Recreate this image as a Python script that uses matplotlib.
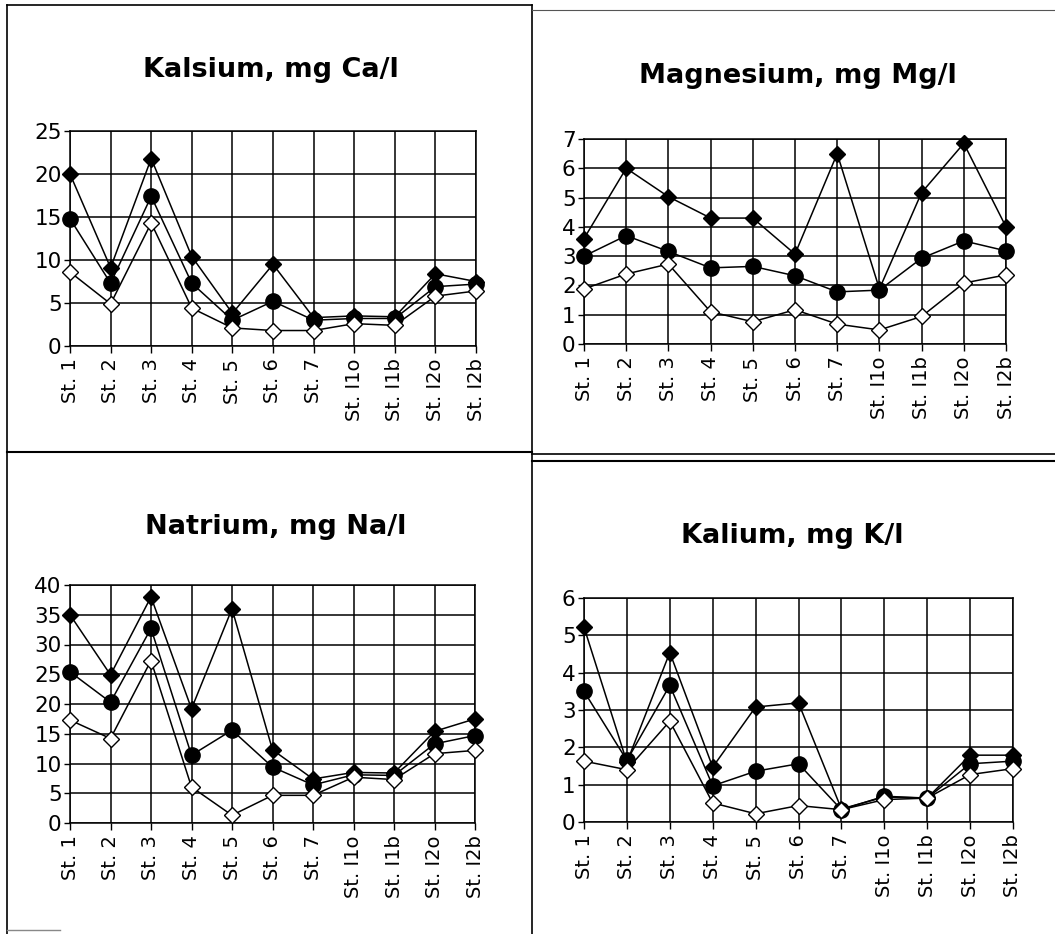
#Four panels of cation concentrations per station

#import libraries
import matplotlib
matplotlib.use('Agg')
import matplotlib.pyplot as plt
from matplotlib.lines import Line2D

#stations on the x axis
stations = ['St. 1', 'St. 2', 'St. 3', 'St. 4', 'St. 5', 'St. 6', 'St. 7',
            'St. I1o', 'St. I1b', 'St. I2o', 'St. I2b']

#kalsium, mg Ca/l
ca_max = [20.0, 9.1, 21.8, 10.4, 3.8, 9.5, 3.3, 3.5, 3.4, 8.4, 7.5]
ca_mid = [14.8, 7.3, 17.4, 7.3, 3.0, 5.2, 3.0, 3.2, 3.2, 6.9, 7.2]
ca_min = [8.6, 4.9, 14.3, 4.4, 2.1, 1.8, 1.8, 2.6, 2.4, 5.8, 6.4]

#magnesium, mg Mg/l
mg_max = [3.6, 6.0, 5.03, 4.3, 4.3, 3.07, 6.5, 1.88, 5.17, 6.85, 4.0]
mg_mid = [3.0, 3.7, 3.16, 2.6, 2.65, 2.33, 1.78, 1.84, 2.93, 3.52, 3.18]
mg_min = [1.88, 2.39, 2.73, 1.1, 0.76, 1.17, 0.68, 0.48, 0.94, 2.08, 2.36]

#natrium, mg Na/l
na_max = [35.0, 24.9, 38.0, 19.2, 36.0, 12.3, 7.4, 8.5, 8.4, 15.4, 17.5]
na_mid = [25.4, 20.3, 32.7, 11.4, 15.6, 9.4, 6.4, 8.1, 8.0, 13.3, 14.7]
na_min = [17.3, 14.2, 27.3, 6.05, 1.3, 4.65, 4.65, 7.7, 7.3, 11.65, 12.2]

#kalium, mg K/l
k_max = [5.22, 1.6, 4.54, 1.47, 3.08, 3.19, 0.35, 0.67, 0.64, 1.79, 1.79]
k_mid = [3.5, 1.65, 3.66, 0.97, 1.36, 1.56, 0.33, 0.69, 0.64, 1.56, 1.63]
k_min = [1.63, 1.4, 2.7, 0.51, 0.22, 0.44, 0.33, 0.6, 0.64, 1.27, 1.43]

titles = ['Kalsium, mg Ca/l', 'Magnesium, mg Mg/l', 'Natrium, mg Na/l', 'Kalium, mg K/l']
ymaxes = [25, 7, 40, 6]
ysteps = [5, 1, 5, 1]

W, H = 1055, 934
fig = plt.figure(figsize=(W / 100, H / 100), dpi=100)

#axes boxes in pixels: left, top, right, bottom
boxes = [(70, 131, 476, 346), (584, 139, 1006, 344),
         (70, 585, 475, 823), (584, 598, 1013, 822)]
#title centres in pixels
title_pos = [(271, 70), (798, 76), (276, 527), (792, 536)]

data = [(ca_max, ca_mid, ca_min), (mg_max, mg_mid, mg_min),
        (na_max, na_mid, na_min), (k_max, k_mid, k_min)]

for i in range(4):
    l, t, r, b = boxes[i]
    ax = fig.add_axes([l / W, 1 - b / H, (r - l) / W, (b - t) / H])
    x = list(range(len(stations)))
    hi, mid, lo = data[i]
    #filled diamonds
    ax.plot(x, hi, color='black', lw=1.1, marker='D', ms=8,
            mfc='black', mec='black', zorder=3, clip_on=False)
    #filled circles
    ax.plot(x, mid, color='black', lw=1.1, marker='o', ms=11,
            mfc='black', mec='black', zorder=4, clip_on=False)
    #open diamonds
    ax.plot(x, lo, color='black', lw=1.1, marker='D', ms=8,
            mfc='white', mec='black', mew=1.0, zorder=5, clip_on=False)

    ax.set_xlim(0, len(stations) - 1)
    ax.set_ylim(0, ymaxes[i])
    ax.set_yticks(range(0, ymaxes[i] + 1, ysteps[i]))
    ax.set_xticks(x)
    ax.set_xticklabels(stations, rotation=90, fontsize=14)
    ax.tick_params(axis='y', labelsize=15.5, length=4, width=1, pad=2)
    ax.tick_params(axis='x', length=5, width=1, pad=4)
    ax.grid(True, color='black', lw=1.1)
    for s in ax.spines.values():
        s.set_linewidth(1.1)

    tx, ty = title_pos[i]
    fig.text(tx / W, 1 - ty / H, titles[i], ha='center', va='center',
             fontsize=19.5, fontweight='bold')

#panel frame lines
def frame_line(x0, y0, x1, y1, lw=1.2, color='black'):
    fig.add_artist(Line2D([x0 / W, x1 / W], [1 - y0 / H, 1 - y1 / H],
                          color=color, lw=lw))

frame_line(7, 5, 532, 5)
frame_line(7, 5, 7, 934)
frame_line(532, 5, 532, 934)
frame_line(532, 10, 1055, 10, lw=0.8, color='#555555')
frame_line(7, 452, 532, 452, lw=1.5)
frame_line(532, 454, 1055, 454, lw=1.2)
frame_line(532, 461, 1055, 461, lw=1.5)
frame_line(7, 930, 60, 930, lw=1.0, color='#888888')

plt.savefig('out.png', dpi=100)
